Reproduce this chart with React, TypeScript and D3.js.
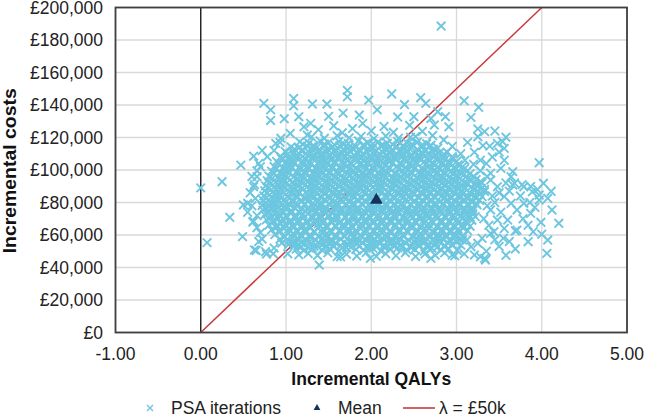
import * as d3 from "d3";

// [incremental QALYs, incremental cost in £k]
const psaIterations: [number, number][] = [
  // dense core, bottom to top
  [1.26,48.6],[1.37,47.4],[1.49,49.0],[1.6,46.7],[1.71,48.2],[1.83,47.1],[1.94,49.2],[2.06,46.9],[2.17,48.5],[2.29,47.3],[2.4,49.1],[2.52,46.8],[2.63,48.3],[2.75,47.6],[2.86,49.0],[2.98,47.2],[3.09,48.4],
  [1.12,51.3],[1.21,50.4],[1.31,52.0],[1.42,50.9],[1.51,51.6],[1.62,50.2],[1.71,52.2],[1.82,51.1],[1.91,50.6],[2.02,51.8],[2.11,50.3],[2.22,51.5],[2.31,52.1],[2.42,50.7],[2.51,51.2],[2.62,50.1],[2.71,51.9],[2.82,50.8],[2.91,51.4],[3.01,50.5],
  [1.03,54.2],[1.14,53.5],[1.22,54.9],[1.33,53.1],[1.44,54.6],[1.53,55.0],[1.64,53.4],[1.73,54.1],[1.84,54.8],[1.95,53.2],[2.04,54.5],[2.15,53.7],[2.24,55.1],[2.35,54.0],[2.46,53.3],[2.55,54.7],[2.66,53.9],[2.75,55.0],[2.86,53.6],[2.95,54.3],[3.05,53.8],
  [0.93,57.4],[1.03,56.3],[1.13,57.9],[1.24,56.8],[1.34,57.1],[1.43,58.0],[1.53,56.5],[1.64,57.6],[1.74,56.2],[1.83,57.8],[1.94,56.9],[2.03,57.3],[2.13,58.1],[2.24,56.4],[2.33,57.5],[2.44,56.7],[2.53,57.9],[2.64,56.1],[2.74,57.2],[2.83,58.0],[2.93,56.6],[3.04,57.4],[3.12,56.9],
  [0.87,60.3],[0.98,59.4],[1.08,60.8],[1.17,59.9],[1.28,60.1],[1.38,59.2],[1.47,60.7],[1.58,60.0],[1.68,59.5],[1.77,60.9],[1.88,59.7],[1.98,60.4],[2.07,59.1],[2.18,60.6],[2.28,59.8],[2.37,60.2],[2.48,59.3],[2.58,60.8],[2.67,59.6],[2.78,60.5],[2.88,59.9],[2.97,60.1],[3.08,59.4],
  [0.83,63.2],[0.93,62.5],[1.03,63.8],[1.13,62.9],[1.22,63.4],[1.33,62.1],[1.43,63.6],[1.52,62.7],[1.63,63.0],[1.73,63.9],[1.82,62.4],[1.93,63.3],[2.03,62.8],[2.12,63.7],[2.23,62.2],[2.33,63.5],[2.42,62.6],[2.53,63.1],[2.63,63.8],[2.72,62.3],[2.83,63.4],[2.93,62.9],[3.02,63.6],[3.13,62.7],
  [0.8,66.1],[0.9,65.4],[0.99,66.7],[1.09,65.8],[1.19,66.3],[1.28,65.2],[1.38,66.9],[1.48,65.6],[1.58,66.0],[1.67,66.5],[1.78,65.3],[1.88,66.8],[1.97,65.9],[2.07,66.2],[2.17,65.5],[2.28,66.6],[2.37,65.7],[2.47,66.4],[2.57,65.1],[2.67,66.8],[2.77,65.6],[2.87,66.3],[2.97,65.9],[3.07,66.0],[3.16,65.4],
  [0.77,69.3],[0.86,68.5],[0.96,69.8],[1.06,68.9],[1.15,69.2],[1.26,68.1],[1.35,69.6],[1.45,68.7],[1.55,69.9],[1.64,68.4],[1.74,69.1],[1.84,68.8],[1.93,69.7],[2.03,68.2],[2.13,69.4],[2.22,69.0],[2.32,68.6],[2.42,69.8],[2.52,68.3],[2.62,69.5],[2.71,68.9],[2.82,69.2],[2.91,68.4],[3.01,69.6],[3.1,68.8],[3.18,69.1],
  [0.75,72.4],[0.83,71.6],[0.92,72.8],[1.01,71.2],[1.11,72.1],[1.2,72.9],[1.3,71.5],[1.4,72.3],[1.49,71.8],[1.59,72.6],[1.69,71.3],[1.79,72.7],[1.89,72.0],[1.98,71.4],[2.08,72.5],[2.18,71.9],[2.27,72.8],[2.37,71.1],[2.47,72.2],[2.57,71.7],[2.66,72.9],[2.76,72.1],[2.86,71.5],[2.96,72.4],[3.05,71.8],[3.14,72.6],[3.22,71.3],
  [0.73,75.3],[0.79,74.4],[0.87,75.8],[0.96,74.9],[1.06,75.1],[1.15,74.2],[1.25,75.7],[1.35,74.6],[1.44,75.9],[1.54,74.3],[1.64,75.4],[1.74,74.8],[1.84,75.6],[1.93,74.1],[2.03,75.2],[2.13,74.7],[2.22,75.9],[2.32,74.5],[2.42,75.0],[2.52,75.8],[2.61,74.3],[2.71,75.5],[2.81,74.9],[2.91,75.2],[3.0,74.4],[3.1,75.7],[3.19,74.8],
  [0.72,78.2],[0.8,77.5],[0.88,78.9],[0.97,77.1],[1.05,78.4],[1.13,77.8],[1.22,78.6],[1.32,77.3],[1.41,78.0],[1.51,78.8],[1.6,77.4],[1.7,78.3],[1.79,77.7],[1.89,78.9],[1.99,77.2],[2.08,78.5],[2.18,77.9],[2.27,78.1],[2.37,77.6],[2.46,78.7],[2.56,77.3],[2.66,78.4],[2.75,77.8],[2.85,78.9],[2.94,77.5],[3.04,78.2],[3.14,77.9],[3.24,78.6],
  [0.73,81.4],[0.81,80.6],[0.9,81.9],[0.99,80.2],[1.08,81.1],[1.18,80.8],[1.27,81.7],[1.37,80.4],[1.46,81.5],[1.56,80.1],[1.65,81.8],[1.75,80.7],[1.84,81.3],[1.94,80.5],[2.03,81.9],[2.13,80.9],[2.22,81.2],[2.32,80.3],[2.41,81.6],[2.51,80.8],[2.61,81.0],[2.7,81.7],[2.8,80.4],[2.89,81.5],[2.99,80.6],[3.09,81.8],[3.18,80.2],[3.27,81.3],
  [0.74,84.1],[0.83,83.5],[0.93,84.7],[1.02,83.9],[1.12,84.4],[1.21,83.2],[1.31,84.8],[1.4,83.6],[1.5,84.2],[1.6,84.9],[1.69,83.4],[1.79,84.5],[1.88,83.8],[1.98,84.1],[2.07,83.3],[2.17,84.6],[2.26,83.7],[2.36,84.9],[2.45,84.0],[2.55,83.5],[2.65,84.3],[2.74,83.9],[2.84,84.8],[2.93,83.2],[3.03,84.5],[3.13,83.8],[3.22,84.2],[3.3,83.6],
  [0.75,87.3],[0.84,86.4],[0.94,87.8],[1.04,86.9],[1.14,87.1],[1.23,86.2],[1.33,87.6],[1.42,86.7],[1.52,87.9],[1.62,86.5],[1.71,87.2],[1.81,86.8],[1.91,87.5],[2.0,86.1],[2.1,87.7],[2.19,86.6],[2.29,87.4],[2.39,86.9],[2.48,87.0],[2.58,86.3],[2.67,87.8],[2.77,86.5],[2.87,87.3],[2.96,86.8],[3.06,87.6],[3.15,86.2],[3.25,87.1],[3.33,86.7],
  [0.76,90.2],[0.86,89.5],[0.96,90.8],[1.05,89.3],[1.15,90.5],[1.25,89.8],[1.34,90.1],[1.44,89.4],[1.53,90.7],[1.63,89.9],[1.73,90.3],[1.82,89.2],[1.92,90.9],[2.02,89.6],[2.11,90.4],[2.21,89.7],[2.3,90.6],[2.4,89.1],[2.5,90.2],[2.59,89.8],[2.69,90.5],[2.78,89.4],[2.88,90.9],[2.98,89.9],[3.07,90.3],[3.17,89.5],[3.26,90.6],
  [0.78,93.4],[0.88,92.6],[0.97,93.9],[1.07,92.2],[1.17,93.1],[1.26,92.8],[1.36,93.7],[1.46,92.4],[1.55,93.5],[1.65,92.9],[1.74,93.2],[1.84,92.1],[1.94,93.8],[2.03,92.7],[2.13,93.3],[2.22,92.5],[2.32,93.6],[2.42,92.3],[2.51,93.0],[2.61,93.8],[2.7,92.6],[2.8,93.4],[2.9,92.9],[2.99,93.1],[3.09,92.2],[3.18,93.6],[3.28,92.8],
  [0.8,96.2],[0.9,95.4],[0.99,96.8],[1.09,95.7],[1.19,96.3],[1.28,95.1],[1.38,96.6],[1.47,95.9],[1.57,96.1],[1.67,95.3],[1.76,96.9],[1.86,95.6],[1.95,96.4],[2.05,95.8],[2.15,96.7],[2.24,95.2],[2.34,96.0],[2.43,96.5],[2.53,95.5],[2.63,96.8],[2.72,95.9],[2.82,96.2],[2.91,95.4],[3.01,96.6],[3.11,95.7],[3.2,96.1],
  [0.83,99.3],[0.93,98.5],[1.02,99.8],[1.12,98.9],[1.22,99.1],[1.31,98.2],[1.41,99.7],[1.5,98.6],[1.6,99.4],[1.7,98.8],[1.79,99.9],[1.89,98.3],[1.98,99.5],[2.08,98.7],[2.17,99.2],[2.27,98.1],[2.37,99.6],[2.46,98.9],[2.56,99.0],[2.65,98.4],[2.75,99.8],[2.85,98.6],[2.94,99.3],[3.04,98.8],[3.13,99.5],
  [0.86,102.1],[0.96,101.4],[1.05,102.8],[1.15,101.6],[1.25,102.3],[1.34,101.2],[1.44,102.7],[1.53,101.9],[1.63,102.0],[1.72,102.6],[1.82,101.3],[1.92,102.4],[2.01,101.8],[2.11,102.9],[2.2,101.5],[2.3,102.2],[2.4,101.7],[2.49,102.8],[2.59,101.1],[2.68,102.5],[2.78,101.9],[2.88,102.3],[2.97,101.6],[3.07,102.0],
  [0.89,105.3],[0.99,104.5],[1.08,105.9],[1.18,104.7],[1.27,105.1],[1.37,104.2],[1.47,105.6],[1.56,104.9],[1.66,105.4],[1.75,104.3],[1.85,105.8],[1.95,104.6],[2.04,105.2],[2.14,104.8],[2.23,105.7],[2.33,104.1],[2.42,105.5],[2.52,104.9],[2.62,105.0],[2.71,104.4],[2.81,105.8],[2.9,104.7],[3.0,105.2],
  [0.94,108.2],[1.03,107.5],[1.13,108.8],[1.22,107.2],[1.32,108.4],[1.42,107.9],[1.51,108.6],[1.61,107.4],[1.7,108.1],[1.8,108.9],[1.89,107.6],[1.99,108.3],[2.08,107.8],[2.18,108.7],[2.28,107.3],[2.37,108.5],[2.47,107.9],[2.56,108.2],[2.66,107.5],[2.75,108.8],[2.85,107.7],[2.95,108.1],
  [0.99,111.4],[1.09,110.6],[1.18,111.8],[1.28,110.3],[1.37,111.2],[1.47,110.9],[1.56,111.7],[1.66,110.5],[1.75,111.5],[1.85,110.2],[1.94,111.9],[2.04,110.7],[2.13,111.1],[2.23,110.4],[2.33,111.6],[2.42,110.8],[2.52,111.3],[2.61,110.1],[2.71,111.7],[2.8,110.6],[2.89,111.0],
  [1.06,114.2],[1.15,113.5],[1.25,114.7],[1.35,113.3],[1.44,114.5],[1.54,113.8],[1.63,114.9],[1.73,113.4],[1.82,114.1],[1.92,114.6],[2.01,113.2],[2.11,114.8],[2.21,113.7],[2.3,114.3],[2.4,113.6],[2.49,114.9],[2.59,113.9],[2.68,114.4],[2.78,113.5],
  [1.16,117.3],[1.27,116.5],[1.4,117.9],[1.5,116.8],[1.62,117.5],[1.73,116.3],[1.85,117.8],[1.96,116.9],[2.08,117.2],[2.19,116.4],[2.31,117.6],[2.42,116.7],[2.54,117.1],[2.65,116.2],
  [1.3,120.4],[1.45,119.5],[1.6,121.1],[1.74,119.8],[1.88,120.7],[2.03,119.3],[2.17,120.9],[2.32,119.6],[2.46,120.2],
  // dense core, in-between rows
  [1.18,52.8],[1.27,52.1],[1.37,53.0],[1.46,52.4],[1.56,52.9],[1.66,52.2],[1.76,52.6],[1.86,53.1],[1.97,52.3],[2.06,52.7],[2.16,52.0],[2.27,52.9],[2.36,52.5],[2.47,52.2],[2.56,53.0],[2.66,52.6],[2.77,52.3],[2.86,52.8],
  [1.08,55.8],[1.18,55.2],[1.28,56.0],[1.38,55.4],[1.48,55.9],[1.58,55.1],[1.68,55.6],[1.78,56.1],[1.89,55.3],[1.99,55.7],[2.09,55.0],[2.19,55.9],[2.29,55.5],[2.4,55.2],[2.5,56.0],[2.6,55.6],[2.7,55.3],[2.8,55.8],[2.9,55.1],[3.0,55.7],
  [0.98,58.8],[1.08,58.1],[1.18,59.0],[1.29,58.4],[1.39,58.9],[1.48,58.2],[1.58,58.6],[1.69,59.1],[1.79,58.3],[1.89,58.7],[1.99,58.0],[2.08,58.9],[2.18,58.5],[2.29,58.2],[2.38,59.0],[2.49,58.6],[2.58,58.3],[2.69,58.8],[2.79,58.1],[2.88,58.7],[2.98,58.4],[3.07,58.9],
  [0.92,61.8],[1.03,61.1],[1.13,62.0],[1.23,61.4],[1.33,61.9],[1.43,61.2],[1.53,61.6],[1.63,62.1],[1.73,61.3],[1.83,61.7],[1.93,61.0],[2.03,61.9],[2.12,61.5],[2.23,61.2],[2.33,62.0],[2.43,61.6],[2.53,61.3],[2.63,61.8],[2.73,61.1],[2.83,61.7],[2.93,61.4],[3.03,61.9],
  [0.88,64.8],[0.98,64.1],[1.08,65.0],[1.18,64.4],[1.28,64.9],[1.38,64.2],[1.48,64.6],[1.58,65.1],[1.68,64.3],[1.78,64.7],[1.88,64.0],[1.98,64.9],[2.08,64.5],[2.18,64.2],[2.28,65.0],[2.38,64.6],[2.48,64.3],[2.58,64.8],[2.68,64.1],[2.78,64.7],[2.88,64.4],[2.98,64.9],[3.08,64.2],
  [0.84,67.8],[0.94,67.1],[1.04,68.0],[1.14,67.4],[1.24,67.9],[1.33,67.2],[1.43,67.6],[1.53,68.1],[1.63,67.3],[1.73,67.7],[1.83,67.0],[1.93,67.9],[2.02,67.5],[2.12,67.2],[2.22,68.0],[2.32,67.6],[2.42,67.3],[2.52,67.8],[2.62,67.1],[2.72,67.7],[2.82,67.4],[2.92,67.9],[3.02,67.2],[3.12,67.6],
  [0.81,70.8],[0.91,70.1],[1.01,71.0],[1.11,70.4],[1.21,70.9],[1.31,70.2],[1.4,70.6],[1.5,71.1],[1.6,70.3],[1.7,70.7],[1.8,70.0],[1.9,70.9],[1.99,70.5],[2.09,70.2],[2.19,71.0],[2.29,70.6],[2.39,70.3],[2.49,70.8],[2.58,70.1],[2.68,70.7],[2.78,70.4],[2.88,70.9],[2.97,70.2],[3.07,70.6],[3.16,70.8],
  [0.79,73.8],[0.88,73.1],[0.97,74.0],[1.06,73.4],[1.16,73.9],[1.26,73.2],[1.35,73.6],[1.45,74.1],[1.55,73.3],[1.64,73.7],[1.74,73.0],[1.84,73.9],[1.94,73.5],[2.03,73.2],[2.13,74.0],[2.23,73.6],[2.32,73.3],[2.42,73.8],[2.52,73.1],[2.61,73.7],[2.71,73.4],[2.81,73.9],[2.91,73.2],[3.0,73.6],[3.1,73.8],[3.19,73.1],
  [0.77,76.8],[0.84,76.1],[0.92,77.0],[1.01,76.4],[1.1,76.9],[1.18,76.2],[1.27,76.6],[1.37,77.1],[1.46,76.3],[1.56,76.7],[1.65,76.0],[1.75,76.9],[1.84,76.5],[1.94,76.2],[2.04,77.0],[2.13,76.6],[2.23,76.3],[2.32,76.8],[2.42,76.1],[2.51,76.7],[2.61,76.4],[2.71,76.9],[2.8,76.2],[2.9,76.6],[2.99,76.8],[3.09,76.1],[3.19,76.5],
  [0.76,79.8],[0.85,79.1],[0.94,80.0],[1.03,79.4],[1.12,79.9],[1.22,79.2],[1.31,79.6],[1.41,80.1],[1.5,79.3],[1.6,79.7],[1.7,79.0],[1.79,79.9],[1.89,79.5],[1.98,79.2],[2.08,80.0],[2.17,79.6],[2.27,79.3],[2.36,79.8],[2.46,79.1],[2.56,79.7],[2.65,79.4],[2.75,79.9],[2.84,79.2],[2.94,79.6],[3.03,79.8],[3.13,79.1],[3.23,79.5],
  [0.77,82.8],[0.86,82.1],[0.95,83.0],[1.04,82.4],[1.13,82.9],[1.23,82.2],[1.32,82.6],[1.42,83.1],[1.51,82.3],[1.61,82.7],[1.7,82.0],[1.8,82.9],[1.89,82.5],[1.99,82.2],[2.08,83.0],[2.18,82.6],[2.27,82.3],[2.37,82.8],[2.46,82.1],[2.56,82.7],[2.65,82.4],[2.75,82.9],[2.85,82.2],[2.94,82.6],[3.04,82.8],[3.13,82.1],[3.23,82.5],
  [0.78,85.8],[0.88,85.1],[0.97,86.0],[1.07,85.4],[1.16,85.9],[1.26,85.2],[1.36,85.6],[1.45,86.1],[1.55,85.3],[1.64,85.7],[1.74,85.0],[1.83,85.9],[1.93,85.5],[2.02,85.2],[2.12,86.0],[2.21,85.6],[2.31,85.3],[2.41,85.8],[2.5,85.1],[2.6,85.7],[2.69,85.4],[2.79,85.9],[2.88,85.2],[2.98,85.6],[3.08,85.8],[3.17,85.1],[3.27,85.5],
  [0.8,88.8],[0.89,88.1],[0.99,89.0],[1.09,88.4],[1.19,88.9],[1.28,88.2],[1.38,88.6],[1.47,89.1],[1.57,88.3],[1.66,88.7],[1.76,88.0],[1.86,88.9],[1.95,88.5],[2.05,88.2],[2.14,89.0],[2.24,88.6],[2.34,88.3],[2.43,88.8],[2.53,88.1],[2.62,88.7],[2.72,88.4],[2.82,88.9],[2.91,88.2],[3.01,88.6],[3.1,88.8],[3.2,88.1],[3.29,88.5],
  [0.82,91.8],[0.91,91.1],[1.01,92.0],[1.1,91.4],[1.2,91.9],[1.3,91.2],[1.39,91.6],[1.49,92.1],[1.58,91.3],[1.68,91.7],[1.78,91.0],[1.87,91.9],[1.97,91.5],[2.06,91.2],[2.16,92.0],[2.26,91.6],[2.35,91.3],[2.45,91.8],[2.55,91.1],[2.64,91.7],[2.74,91.4],[2.83,91.9],[2.93,91.2],[3.03,91.6],[3.12,91.8],[3.22,91.1],
  [0.84,94.8],[0.93,94.1],[1.02,95.0],[1.12,94.4],[1.22,94.9],[1.31,94.2],[1.41,94.6],[1.5,95.1],[1.6,94.3],[1.7,94.7],[1.79,94.0],[1.89,94.9],[1.99,94.5],[2.08,94.2],[2.18,95.0],[2.27,94.6],[2.37,94.3],[2.46,94.8],[2.56,94.1],[2.66,94.7],[2.75,94.4],[2.85,94.9],[2.95,94.2],[3.04,94.6],[3.14,94.8],[3.23,94.1],
  [0.86,97.8],[0.95,97.1],[1.04,98.0],[1.14,97.4],[1.24,97.9],[1.33,97.2],[1.43,97.6],[1.52,98.1],[1.62,97.3],[1.72,97.7],[1.81,97.0],[1.91,97.9],[2.0,97.5],[2.1,97.2],[2.2,98.0],[2.29,97.6],[2.39,97.3],[2.48,97.8],[2.58,97.1],[2.68,97.7],[2.77,97.4],[2.87,97.9],[2.96,97.2],[3.06,97.6],[3.16,97.8],
  [0.89,100.8],[0.98,100.1],[1.07,101.0],[1.17,100.4],[1.27,100.9],[1.36,100.2],[1.46,100.6],[1.55,101.1],[1.65,100.3],[1.75,100.7],[1.84,100.0],[1.94,100.9],[2.03,100.5],[2.13,100.2],[2.22,101.0],[2.32,100.6],[2.42,100.3],[2.51,100.8],[2.61,100.1],[2.7,100.7],[2.8,100.4],[2.9,100.9],[2.99,100.2],[3.09,100.6],
  [0.92,103.8],[1.01,103.1],[1.1,104.0],[1.2,103.4],[1.3,103.9],[1.39,103.2],[1.49,103.6],[1.58,104.1],[1.68,103.3],[1.77,103.7],[1.87,103.0],[1.97,103.9],[2.06,103.5],[2.16,103.2],[2.25,104.0],[2.35,103.6],[2.45,103.3],[2.54,103.8],[2.64,103.1],[2.73,103.7],[2.83,103.4],[2.93,103.9],[3.02,103.2],
  [0.95,106.8],[1.04,106.1],[1.13,107.0],[1.23,106.4],[1.32,106.9],[1.42,106.2],[1.52,106.6],[1.61,107.1],[1.71,106.3],[1.8,106.7],[1.9,106.0],[2.0,106.9],[2.09,106.5],[2.19,106.2],[2.28,107.0],[2.38,106.6],[2.48,106.3],[2.57,106.8],[2.67,106.1],[2.76,106.7],[2.86,106.4],[2.96,106.9],
  [1.02,109.8],[1.13,109.1],[1.23,110.0],[1.33,109.4],[1.42,109.9],[1.52,109.2],[1.61,109.6],[1.71,110.1],[1.8,109.3],[1.9,109.7],[1.99,109.0],[2.09,109.9],[2.18,109.5],[2.28,109.2],[2.37,110.0],[2.47,109.6],[2.56,109.3],[2.66,109.8],[2.75,109.1],[2.85,109.7],
  [1.1,112.8],[1.2,112.1],[1.3,113.0],[1.4,112.4],[1.49,112.9],[1.59,112.2],[1.68,112.6],[1.78,113.1],[1.87,112.3],[1.97,112.7],[2.06,112.0],[2.16,112.9],[2.25,112.5],[2.35,112.2],[2.45,113.0],[2.54,112.6],[2.64,112.3],[2.73,112.8],
  [1.2,115.8],[1.32,115.1],[1.45,116.0],[1.57,115.4],[1.68,115.9],[1.8,115.2],[1.91,115.6],[2.02,116.1],[2.14,115.3],[2.25,115.7],[2.37,115.0],[2.48,115.9],[2.6,115.5],[2.7,115.2],
  // scattered, upper
  [0.74,141],[0.82,137],[0.82,130.5],[0.98,131.5],[1.09,144],[1.09,139.5],[1.15,132.8],[1.21,126.6],[1.29,128.7],[1.31,140.6],[1.48,140.6],[1.5,133],[1.67,135],[1.72,149],[1.72,145],[1.86,133.8],[1.9,128.7],[1.97,143],[2.07,137],[2.24,146.8],[2.31,132.6],[2.39,140.3],[2.5,132.8],[2.58,144.5],[2.64,141],[2.7,131.7],[2.74,127.7],[2.78,135.9],[2.87,132.8],[2.91,126.6],[3.09,142.6],[3.26,138.6],[3.17,132.4],[3.25,125.3],[3.33,123.6],[3.45,124],[3.54,117.5],[3.58,120.2],[3.31,115],[3.39,114.7],[3.13,117],[3.21,111],[3.5,111],[3.56,106],[3.97,104.5],[2.82,188.6],
  [1.05,122.5],[1.38,124.8],[1.56,127.2],[1.78,125.5],[1.66,122.9],[2.0,124.1],[2.15,126.8],[2.26,123.2],[2.45,127.5],[2.6,123.8],[2.72,121.2],[2.52,120.6],[1.25,121.5],[0.93,117],[0.86,112],[0.72,112],[2.85,118.5],[2.95,114.5],[3.05,110],[3.1,106],[3.2,103.5],[3.28,99.5],[3.36,96],
  // scattered, left
  [0.62,108.5],[0.68,104],[0.7,102],[0.66,99.5],[0.66,95.9],[0.6,96],[0.62,89.7],[0.63,91],[0.58,86],[0.64,82.5],[0.6,78],[0.55,79.5],[0.5,78.5],[0.55,74],[0.66,72],[0.62,68.5],[0.78,108.2],[0.88,116.4],[0.94,119.5],[0.47,103],
  [0.0,89],[0.074,55.3],[0.25,92.8],[0.34,70.9],[0.49,59],[0.61,68],[0.63,50.8],[0.77,48.3],[1.39,41.5],[0.68,56],[0.76,49.7],[0.86,52],[0.95,55],[1.02,48.5],[1.1,53.8],[0.7,61.5],[0.66,64.5],[0.72,57.5],[1.15,47.8],[0.65,50.5],[0.85,48.5],
  // scattered, right and bottom
  [3.66,90.8],[3.79,89.7],[3.89,86.6],[4.02,91.8],[4.11,86.9],[3.97,81.5],[4.12,75.4],[4.2,67.2],[3.99,67.8],[3.87,73.3],[3.71,75.4],[3.79,79.5],[3.6,69.2],[3.69,62.5],[3.84,55.9],[4.07,56.9],[4.06,48.7],[3.69,51.4],[3.33,45.6],[3.21,47.7],[3.17,52.8],[3.07,56.9],[2.95,47.7],[2.7,45.6],[1.99,45.6],[1.64,46.6],
  [3.44,62],[3.48,69.2],[3.4,75.4],[3.64,79.5],[3.56,83.6],[3.48,89.7],[3.4,93.8],[3.64,95.9],[3.95,88],[3.87,89.9],[3.77,91],[3.68,92],[3.97,84.6],[4.07,82.6],[3.34,44.6],[3.28,46.6],[3.25,54.9],[3.4,61],[3.56,64],[3.71,63],
  [3.48,116.4],[3.56,113.3],[3.25,120.5],[3.52,101],[3.4,98],[3.66,99],[3.35,104],[3.42,108],[3.28,106],[3.5,86],[3.58,92],[3.45,80],[3.52,74],[3.62,87],[3.75,84],[3.86,80],[3.92,77],[3.55,58],[3.62,56],[3.5,53],[3.45,57],[3.38,66],[3.3,58],[3.35,50],[3.58,47.5],[3.9,62],[4.0,60.5],[3.78,70],[3.84,66],[3.32,70],[3.36,78],[3.33,88],[3.42,84],[3.3,92],
];

const meanPoint: [number, number] = [2.06, 81.5];
const lambda = 50000; // willingness to pay per QALY
const xTicks = [-1, 0, 1, 2, 3, 4, 5];
const yTicks = [0, 20000, 40000, 60000, 80000, 100000, 120000, 140000, 160000, 180000, 200000];
const legendLabels = ["PSA iterations", "Mean", "λ = £50k"];

const W = 646;
const H = 417;
const blue = "#6cc6df";
const navy = "#14325c";
const red = "#c9393b";
const font = "'Liberation Sans', Arial, sans-serif";

export default function App() {
  const x = d3.scaleLinear().domain([-1, 5]).range([115.5, 627]);
  const y = d3.scaleLinear().domain([0, 200000]).range([332.5, 7.5]);

  const locale = d3.formatLocale({ decimal: ".", thousands: ",", grouping: [3], currency: ["£", ""], minus: "-" });
  const fx = locale.format(".2f");
  const fy = locale.format("$,");

  const cross = (s: number) => `M${-s},${-s}L${s},${s}M${-s},${s}L${s},${-s}`;
  const bigCross = cross(4.3);
  const tri = d3.symbol(d3.symbolTriangle, 70)() as string;
  const smallTri = d3.symbol(d3.symbolTriangle, 20)() as string;

  const yMax = y.domain()[1];
  const wtpLine = d3.line()([
    [x(0), y(0)],
    [x(yMax / lambda), y(yMax)],
  ]) as string;

  const [x0, x1] = x.range();
  const [y0, y1] = y.range();

  return (
    <svg width={W} height={H} style={{ position: "absolute", left: 0, top: 0, fontFamily: font }}>
      <rect width={W} height={H} fill="#fff" />

      {/* gridlines */}
      {yTicks.map(t => (
        <line key={"gy" + t} x1={x0} x2={x1} y1={y(t)} y2={y(t)} stroke="#d9d9d9" strokeWidth={1.3} />
      ))}
      {xTicks.map(t => (
        <line key={"gx" + t} x1={x(t)} x2={x(t)} y1={y1} y2={y0} stroke="#d9d9d9" strokeWidth={1.3} />
      ))}

      {/* axis at zero QALYs */}
      <line x1={x(0)} x2={x(0)} y1={y1} y2={y0} stroke="#111" strokeWidth={1.3} />

      <path d={wtpLine} stroke={red} strokeWidth={1.5} fill="none" />

      {/* PSA iterations */}
      <g stroke={blue} strokeWidth={1.9} fill="none">
        {psaIterations.map(([q, c], i) => (
          <path key={i} d={bigCross} transform={`translate(${x(q)},${y(c * 1000)})`} />
        ))}
      </g>

      <path d={tri} fill={navy} transform={`translate(${x(meanPoint[0])},${y(meanPoint[1] * 1000)})`} />

      <rect x={x0} y={y1} width={x1 - x0} height={y0 - y1} fill="none" stroke="#404040" strokeWidth={1.8} />

      {/* tick labels */}
      {yTicks.map(t => (
        <text key={"ty" + t} x={103} y={y(t)} dy="0.36em" textAnchor="end" fontSize={17.5} fill="#222">
          {fy(t)}
        </text>
      ))}
      {xTicks.map(t => (
        <text key={"tx" + t} x={x(t)} y={360} textAnchor="middle" fontSize={17.5} fill="#222">
          {fx(t)}
        </text>
      ))}

      {/* axis titles */}
      <text x={(x0 + x1) / 2} y={385} textAnchor="middle" fontSize={17.5} fontWeight="bold" fill="#111">
        Incremental QALYs
      </text>
      <text
        transform="translate(15.5,170.8) rotate(-90)"
        textAnchor="middle"
        fontSize={18}
        fontWeight="bold"
        fill="#111"
        textLength={165}
        lengthAdjust="spacingAndGlyphs"
      >
        Incremental costs
      </text>

      {/* legend */}
      <g fontSize={17.5} fill="#222">
        <path d={cross(3)} transform="translate(150,408)" stroke={blue} strokeWidth={1.4} fill="none" />
        <text x={171} y={414}>{legendLabels[0]}</text>
        <path d={smallTri} transform="translate(317,408)" fill={navy} />
        <text x={338} y={414}>{legendLabels[1]}</text>
        <line x1={403} x2={435} y1={408} y2={408} stroke={red} strokeWidth={1.6} />
        <text x={439} y={414}>{legendLabels[2]}</text>
      </g>
    </svg>
  );
}
